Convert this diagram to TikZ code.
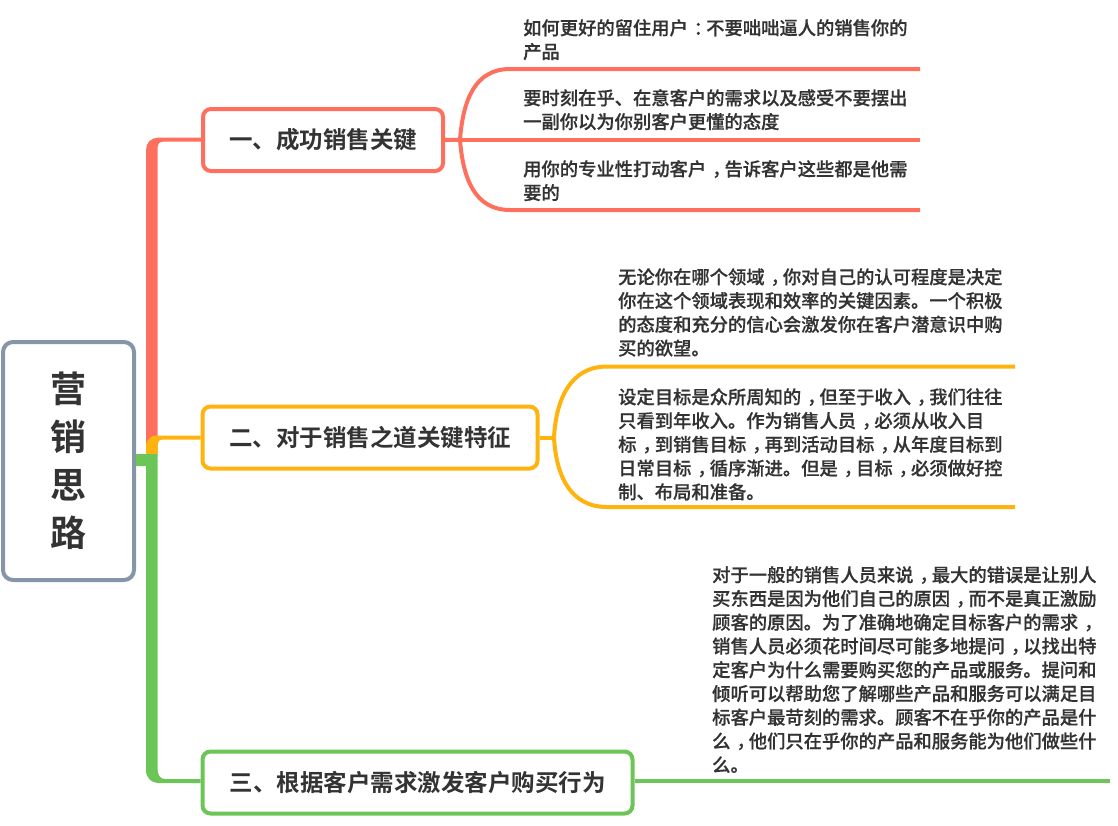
\documentclass[tikz,border=0pt]{standalone}
\usepackage{fontspec}
\setmainfont{Noto Sans CJK SC}[UprightFont=* Medium,BoldFont=* Bold]
\newfontfamily\leaffont{Noto Sans CJK SC Medium}[FakeBold=0.5]
\usetikzlibrary{calc}
\definecolor{ink}{HTML}{333333}
\definecolor{cred}{HTML}{FF6F5E}
\definecolor{cyel}{HTML}{FFB30F}
\definecolor{cgrn}{HTML}{6CC557}
\definecolor{cgry}{HTML}{8795A8}
\newcommand\cma{\kern.32em，\kern-.32em}
\newcommand\cln{\kern.32em：\kern-.32em}
\tikzset{
  x=1pt,y=-1pt,
  rootbox/.style={draw=cgry,line width=4pt,rounded corners=10pt,fill=white,minimum width=131pt,minimum height=238pt,inner sep=0pt,align=center,text=ink,font=\fontsize{36}{48}\selectfont\bfseries},
  branchbox/.style={line width=4pt,rounded corners=8pt,fill=white,minimum height=62pt,inner sep=0pt,align=center,text=ink,font=\fontsize{23.5}{28}\selectfont\bfseries},
  leaf/.style={anchor=north west,inner sep=0pt,align=left,text=ink,font=\leaffont\fontsize{18.3}{23.75}\selectfont},
  stem/.style={line width=4pt},
}
\begin{document}
\begin{tikzpicture}
\useasboundingbox (0,0) rectangle (1118,825);
% free ends
\coordinate (e1) at (920,69);
\coordinate (e2) at (920,139.7);
\coordinate (e3) at (920,210);
\coordinate (e4) at (1015,366.5);
\coordinate (e5) at (1015,507);
\coordinate (e6) at (1110,781);
\coordinate (j1) at (460,139.7);
\coordinate (j2) at (554,437.5);
% root
\node[rootbox] (root) at (68.5,461) {营\\销\\思\\路};
% branches
\node[branchbox,draw=cred,minimum width=240pt] (b1) at (323,140) {一、成功销售关键};
\node[branchbox,draw=cyel,minimum width=335pt] (b2) at (370,437.5) {二、对于销售之道关键特征};
\node[branchbox,draw=cgrn,minimum width=430pt] (b3) at (417.5,782.5) {三、根据客户需求激发客户购买行为};
% leaves
\node[leaf] (l1) at (523,19) {如何更好的留住用户\cln 不要咄咄逼人的销售你的\\产品};
\node[leaf] (l2) at (523,89) {要时刻在乎、在意客户的需求以及感受不要摆出\\一副你以为你别客户更懂的态度};
\node[leaf] (l3) at (523,160) {用你的专业性打动客户\cma 告诉客户这些都是他需\\要的};
\node[leaf] (l4) at (618,268) {无论你在哪个领域\cma 你对自己的认可程度是决定\\你在这个领域表现和效率的关键因素。一个积极\\的态度和充分的信心会激发你在客户潜意识中购\\买的欲望。};
\node[leaf] (l5) at (618,388) {设定目标是众所周知的\cma 但至于收入\cma 我们往往\\只看到年收入。作为销售人员\cma 必须从收入目\\标\cma 到销售目标\cma 再到活动目标\cma 从年度目标到\\日常目标\cma 循序渐进。但是\cma 目标\cma 必须做好控\\制、布局和准备。};
\node[leaf] (l6) at (712,566) {对于一般的销售人员来说\cma 最大的错误是让别人\\买东西是因为他们自己的原因\cma 而不是真正激励\\顾客的原因。为了准确地确定目标客户的需求\cma \\销售人员必须花时间尽可能多地提问\cma 以找出特\\定客户为什么需要购买您的产品或服务。提问和\\倾听可以帮助您了解哪些产品和服务可以满足目\\标客户最苛刻的需求。顾客不在乎你的产品是什\\么\cma 他们只在乎你的产品和服务能为他们做些什\\么。};
% trunks, from the root to each branch
\fill[cred] ($(root.east)+(10,-7)$) -- (146,150) .. controls (146,143) and (151,137.7) .. (158,137.7) -- ($(b1.west)+(0,-2.3)$) -- ($(b1.west)+(0,1.7)$) -- (163,141.7) .. controls (159.5,141.7) and (157.5,144) .. (157.5,147) -- ($(root.east)+(21.5,-7)$) -- cycle;
\fill[cyel] ($(root.east)+(10,-7)$) -- (146,447) .. controls (146,439.5) and (150,435.5) .. (157,435.5) -- ($(b2.west)+(0,-2)$) -- ($(b2.west)+(0,2)$) -- (163,439.5) .. controls (159.5,439.5) and (157.5,441.5) .. (157.5,444.5) -- ($(root.east)+(21.5,-7)$) -- cycle;
\fill[cgrn] ($(root.east)+(0,-7)$) -- ($(root.east)+(21.5,-7)$) -- (157.5,768) .. controls (157.5,775) and (160,779) .. (165,779) -- ($(b3.west)+(0,-3.5)$) -- ($(b3.west)+(0,0.5)$) -- (160,783) .. controls (151,783) and (146,778) .. (146,770) -- ($(root.east)+(10,5)$) -- ($(root.east)+(0,5)$) -- cycle;
% leaf connectors
\draw[cred,stem] (b1.east) -- (j1);
\draw[cred,stem] (j1) -- (e2);
\draw[cred,stem] (j1) .. controls (463,100) and (475,69) .. (510,69) -- (e1);
\draw[cred,stem] (j1) .. controls (463,179) and (475,210) .. (510,210) -- (e3);
\draw[cyel,stem] (b2.east) -- (j2);
\draw[cyel,stem] (j2) .. controls (556,400) and (570,366.5) .. (607,366.5) -- (e4);
\draw[cyel,stem] (j2) .. controls (556,475) and (570,507) .. (607,507) -- (e5);
\draw[cgrn,stem] ($(b3.east)+(0,-1.5)$) -- (e6);
\end{tikzpicture}
\end{document}
